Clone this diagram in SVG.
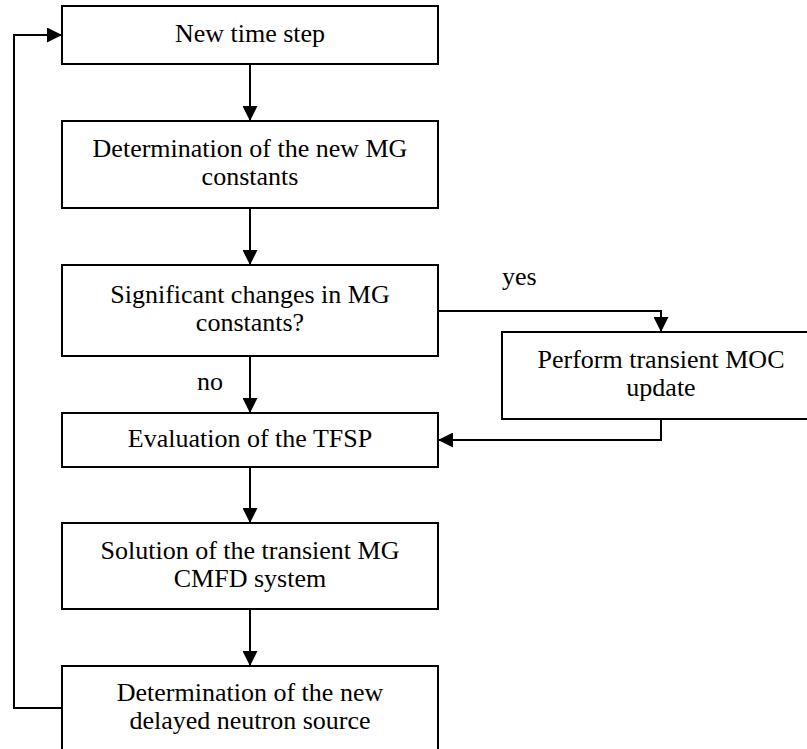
<svg xmlns="http://www.w3.org/2000/svg" width="807" height="749" viewBox="0 0 807 749">
  <style>
    .box { fill: #ffffff; stroke: #000000; stroke-width: 2; }
    .lbl { font-family: "Liberation Serif", "Times New Roman", serif; font-size: 26px; fill: #000000; text-anchor: middle; }
    .tag { font-family: "Liberation Serif", "Times New Roman", serif; font-size: 26px; fill: #000000; }
    .edge { fill: none; stroke: #000000; stroke-width: 2; marker-end: url(#arrow); }
    .plain { fill: none; stroke: #000000; stroke-width: 2; }
  </style>
  <defs>
    <marker id="arrow" markerUnits="userSpaceOnUse" markerWidth="15" markerHeight="15" refX="15" refY="7.5" orient="auto">
      <path d="M0,0 L15,7.5 L0,15 Z" fill="#000000"/>
    </marker>
  </defs>
  <rect width="807" height="749" fill="#ffffff"/>

  <g id="connectors">
    <path class="edge" d="M250,64 V121"/>
    <path class="edge" d="M250,208 V265"/>
    <path class="edge" d="M250,356 V413"/>
    <path class="edge" d="M438,311 H661 V332"/>
    <path class="edge" d="M661,419 V440 H438"/>
    <path class="edge" d="M250,467 V523"/>
    <path class="edge" d="M250,609 V666"/>
    <path class="edge" d="M62,708 H14 V35 H62"/>
    <text class="tag" x="502" y="285">yes</text>
    <text class="tag" x="197" y="390">no</text>
  </g>

  <g id="n1">
    <rect class="box" x="62" y="6" width="376" height="58"/>
    <text class="lbl" x="250" y="42">New time step</text>
  </g>
  <g id="n2">
    <rect class="box" x="62" y="121" width="376" height="87"/>
    <text class="lbl" x="250" y="157">Determination of the new MG</text>
    <text class="lbl" x="250" y="185">constants</text>
  </g>
  <g id="n3">
    <rect class="box" x="62" y="265" width="376" height="91"/>
    <text class="lbl" x="250" y="303">Significant changes in MG</text>
    <text class="lbl" x="250" y="331">constants?</text>
  </g>
  <g id="n4">
    <rect class="box" x="502" y="332" width="318" height="87"/>
    <text class="lbl" x="661" y="368">Perform transient MOC</text>
    <text class="lbl" x="661" y="396">update</text>
  </g>
  <g id="n5">
    <rect class="box" x="62" y="413" width="376" height="54"/>
    <text class="lbl" x="250" y="447">Evaluation of the TFSP</text>
  </g>
  <g id="n6">
    <rect class="box" x="62" y="523" width="376" height="86"/>
    <text class="lbl" x="250" y="559">Solution of the transient MG</text>
    <text class="lbl" x="250" y="587">CMFD system</text>
  </g>
  <g id="n7">
    <rect class="box" x="62" y="666" width="376" height="86"/>
    <text class="lbl" x="250" y="701">Determination of the new</text>
    <text class="lbl" x="250" y="729">delayed neutron source</text>
  </g>
</svg>
